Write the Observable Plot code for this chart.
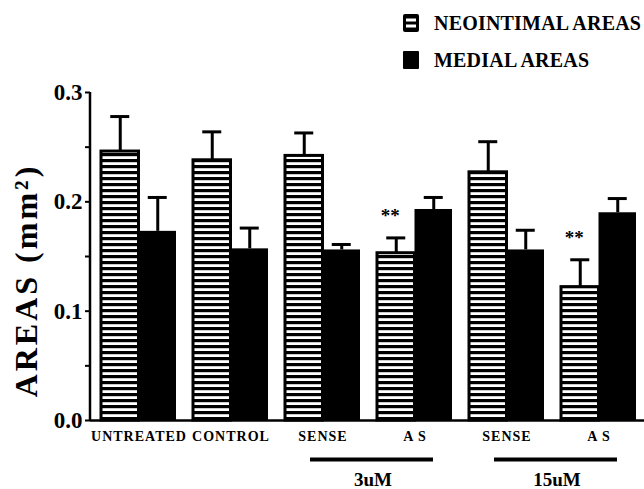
<!DOCTYPE html>
<html><head><meta charset="utf-8">
<script src="https://cdn.jsdelivr.net/npm/d3@7"></script>
<script src="https://cdn.jsdelivr.net/npm/@observablehq/plot@0.6"></script>
<style>
html,body{margin:0;padding:0;background:#fff;width:644px;height:489px;overflow:hidden}
body{font-family:"Liberation Serif","Times New Roman",serif;font-weight:bold;color:#000}
#legend{position:relative;height:75px;width:644px;overflow:hidden}
.lg-row{position:absolute;left:403px;height:18px;display:flex;align-items:center;white-space:nowrap;font-size:20px;letter-spacing:0.2px;line-height:18px}
.lg-row svg{margin-right:15px;flex:none}
#chart svg{display:block;overflow:hidden}
#chart text{font-family:"Liberation Serif","Times New Roman",serif;font-weight:bold}
g[aria-label="x-axis tick label"] text{font-size:14px;letter-spacing:1px}
g[aria-label="y-axis tick label"] text{font-size:23px}
</style></head>
<body>
<div id="legend"></div>
<div id="chart"></div>
<script>
// ---- data ----
const groups = ["UNTREATED", "CONTROL", "SENSE 3", "AS 3", "SENSE 15", "AS 15"];
const groupLabels = ["UNTREATED", "CONTROL", "SENSE", "A S", "SENSE", "A S"];
const neointimal = [0.246, 0.238, 0.242, 0.153, 0.227, 0.122];
const neointimalErr = [0.032, 0.026, 0.021, 0.014, 0.028, 0.025];
const medial = [0.173, 0.157, 0.156, 0.193, 0.156, 0.190];
const medialErr = [0.031, 0.019, 0.005, 0.011, 0.018, 0.013];
const significant = ["AS 3", "AS 15"];
const doseLabels = ["3uM", "15uM"];
const doseFrom = ["SENSE 3", "SENSE 15"];
const doseTo = ["AS 3", "AS 15"];
const seriesNames = ["NEOINTIMAL AREAS", "MEDIAL AREAS"];
const yTicks = [0, 0.05, 0.1, 0.15, 0.2, 0.25, 0.3];
const yTickLabels = ["0.0", "", "0.1", "", "0.2", "", "0.3"];
const yTitle = "AREAS (mm²)";

// ---- tables ----
const rows = groups.map((g, i) => ({
  group: g,
  neo: neointimal[i], neoTop: neointimal[i] + neointimalErr[i],
  med: medial[i], medTop: medial[i] + medialErr[i]
}));
const sigRows = rows.filter(d => significant.includes(d.group));
const doseRows = doseLabels.map((l, i) => ({label: l, from: doseFrom[i], to: doseTo[i]}));
const labelOf = new Map(groups.map((g, i) => [g, groupLabels[i]]));
const yLabelOf = new Map(yTicks.map((t, i) => [t, yTickLabels[i]]));

// ---- legend (HTML above the svg) ----
const legend = document.getElementById("legend");
const icons = [
  `<svg width="16" height="18"><rect x="0" y="0" width="16" height="18" rx="2" fill="#000"/><rect x="3" y="4.5" width="10" height="3" fill="#fff"/><rect x="3" y="10.5" width="10" height="3" fill="#fff"/></svg>`,
  `<svg width="16" height="18"><rect x="0" y="0" width="16" height="18" rx="1" fill="#000"/></svg>`
];
const legendTops = [14, 51];
seriesNames.forEach((name, i) => {
  const row = document.createElement("div");
  row.className = "lg-row";
  row.style.top = legendTops[i] + "px";
  row.innerHTML = icons[i] + `<span>${name}</span>`;
  legend.appendChild(row);
});

// ---- layout ----
const W = 644, H = 414;
const B = 75;           // band width of one group (pair of bars)
const half = B / 2;
const capHalf = 9.5;

function defs() {
  const d = d3.create("svg:defs");
  const p = d.append("pattern").attr("id", "hstripes").attr("patternUnits", "userSpaceOnUse")
    .attr("width", 8).attr("height", 6);
  p.append("rect").attr("width", 8).attr("height", 6).attr("fill", "#fff");
  p.append("rect").attr("width", 8).attr("height", 3.2).attr("fill", "#000");
  return d.node();
}
function yAxisLine(index, scales, values, dims) {
  return d3.create("svg:line")
    .attr("x1", dims.marginLeft).attr("x2", dims.marginLeft)
    .attr("y1", scales.y(0) + 1).attr("y2", scales.y(0.3))
    .attr("stroke", "#000").attr("stroke-width", 2.5).node();
}

const chart = Plot.plot({
  width: W, height: H,
  marginTop: 17, marginBottom: 69, marginLeft: 90, marginRight: 0,
  style: {background: "#fff", fontFamily: "Liberation Serif, serif", fontWeight: "bold", color: "#000"},
  x: {type: "band", domain: groups, range: [90, 647], paddingInner: 0.187, paddingOuter: 0.114},
  y: {domain: [0, 0.3]},
  marks: [
    defs,
    Plot.barY(rows, {x: "group", y: "neo", fill: "url(#hstripes)", stroke: "#000", strokeWidth: 3, insetRight: half}),
    Plot.barY(rows, {x: "group", y: "med", fill: "#000", insetLeft: half}),
    Plot.ruleX(rows, {x: "group", y1: "neo", y2: "neoTop", dx: -B / 4, stroke: "#000", strokeWidth: 3}),
    Plot.ruleX(rows, {x: "group", y1: "med", y2: "medTop", dx: B / 4, stroke: "#000", strokeWidth: 3}),
    Plot.tickY(rows, {x: "group", y: "neoTop", stroke: "#000", strokeWidth: 3, insetLeft: B / 4 - capHalf, insetRight: 3 * B / 4 - capHalf}),
    Plot.tickY(rows, {x: "group", y: "medTop", stroke: "#000", strokeWidth: 3, insetLeft: 3 * B / 4 - capHalf, insetRight: B / 4 - capHalf}),
    Plot.ruleY([0], {stroke: "#000", strokeWidth: 2.5}),
    yAxisLine,
    Plot.axisY({ticks: yTicks, tickFormat: t => yLabelOf.get(t) ?? "", tickSize: 5, tickPadding: 3, stroke: "#000", strokeWidth: 2, label: null, fill: "#000"}),
    Plot.axisX({tickSize: 0, tickPadding: 11, tickFormat: g => labelOf.get(g), label: null, fill: "#000"}),
    Plot.text(sigRows, {x: "group", y: "neoTop", text: () => "**", dx: -B / 4 - 6, dy: -22, fontSize: 19, fill: "#000"}),
    Plot.ruleY(doseRows, {x1: "from", x2: "to", y: () => 0, dy: 39, stroke: "#000", strokeWidth: 4, insetLeft: 25, insetRight: 19}),
    Plot.text(doseRows, {x: "from", frameAnchor: "bottom", textAnchor: "middle", text: "label", dx: 50, dy: 65, fontSize: 19, fill: "#000"}),
    Plot.text([yTitle], {frameAnchor: "left", textAnchor: "middle", text: d => d, rotate: -90, dx: -64, dy: 24, fontSize: 32, fill: "#000"})
  ]
});
document.getElementById("chart").appendChild(chart);
d3.select(chart).selectAll("text").filter(function () { return this.textContent === yTitle; })
  .attr("letter-spacing", 3);
</script>
</body></html>
